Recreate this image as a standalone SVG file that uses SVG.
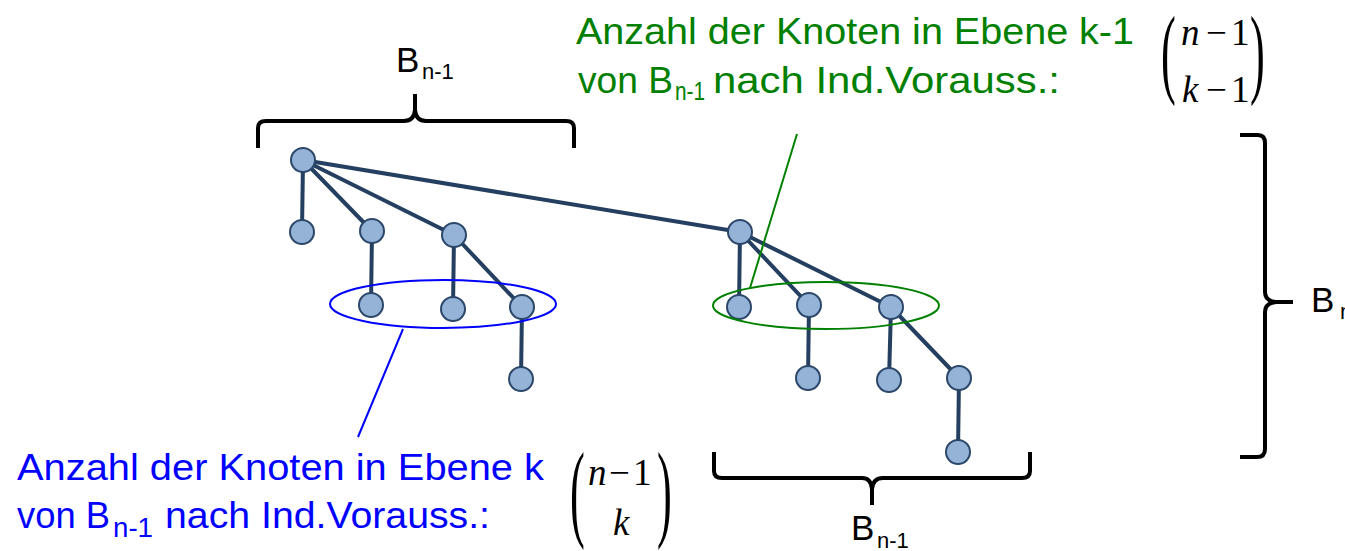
<svg xmlns="http://www.w3.org/2000/svg" width="1345" height="551" viewBox="0 0 1345 551">
<style>
.edge{stroke:#243F60;stroke-width:4;stroke-linecap:round}
.node{fill:#95B3D7;stroke:#2B4769;stroke-width:2}
.brace{fill:none;stroke:#000;stroke-width:4;stroke-linejoin:round}
.t{font-family:"Liberation Sans",Arial,sans-serif}
.m{font-family:"Liberation Serif","Times New Roman",serif;font-size:37px;fill:#000}
.mi{font-style:italic}
.green{fill:#008000}
.blue{fill:#0000FF}
</style>
<rect width="1345" height="551" fill="#fff"/>
<g id="connectors">
<line class="edge" x1="303" y1="160" x2="302" y2="232"/>
<line class="edge" x1="303" y1="160" x2="372" y2="231"/>
<line class="edge" x1="303" y1="160" x2="454" y2="235"/>
<line class="edge" x1="303" y1="160" x2="740" y2="232"/>
<line class="edge" x1="372" y1="231" x2="371" y2="305"/>
<line class="edge" x1="454" y1="235" x2="453" y2="309"/>
<line class="edge" x1="454" y1="235" x2="522" y2="307"/>
<line class="edge" x1="522" y1="307" x2="521" y2="379"/>
<line class="edge" x1="740" y1="232" x2="739" y2="307"/>
<line class="edge" x1="740" y1="232" x2="809" y2="305"/>
<line class="edge" x1="740" y1="232" x2="891" y2="307"/>
<line class="edge" x1="809" y1="305" x2="808" y2="378"/>
<line class="edge" x1="891" y1="307" x2="889" y2="380"/>
<line class="edge" x1="891" y1="307" x2="959" y2="378"/>
<line class="edge" x1="959" y1="378" x2="958" y2="452"/>
</g>
<g id="n1"><circle class="node" cx="303" cy="160" r="12"/></g>
<g id="n2"><circle class="node" cx="302" cy="232" r="12"/></g>
<g id="n3"><circle class="node" cx="372" cy="231" r="12"/></g>
<g id="n4"><circle class="node" cx="454" cy="235" r="12"/></g>
<g id="n5"><circle class="node" cx="371" cy="305" r="12"/></g>
<g id="n6"><circle class="node" cx="453" cy="309" r="12"/></g>
<g id="n7"><circle class="node" cx="522" cy="307" r="12"/></g>
<g id="n8"><circle class="node" cx="521" cy="379" r="12"/></g>
<g id="n9"><circle class="node" cx="740" cy="232" r="12"/></g>
<g id="n10"><circle class="node" cx="739" cy="307" r="12"/></g>
<g id="n11"><circle class="node" cx="809" cy="305" r="12"/></g>
<g id="n12"><circle class="node" cx="891" cy="307" r="12"/></g>
<g id="n13"><circle class="node" cx="808" cy="378" r="12"/></g>
<g id="n14"><circle class="node" cx="889" cy="380" r="12"/></g>
<g id="n15"><circle class="node" cx="959" cy="378" r="12"/></g>
<g id="n16"><circle class="node" cx="958" cy="452" r="12"/></g>
<g id="blue-annotation">
<ellipse cx="443" cy="304" rx="113" ry="24" fill="none" stroke="#0000FF" stroke-width="2"/>
<line x1="403" y1="329" x2="358" y2="437" stroke="#0000FF" stroke-width="2"/>
<text class="t blue" x="17" y="480" font-size="37" textLength="527" lengthAdjust="spacingAndGlyphs">Anzahl der Knoten in Ebene k</text>
<text class="t blue" x="17" y="528" font-size="37" textLength="93" lengthAdjust="spacingAndGlyphs">von B</text>
<text class="t blue" x="113" y="537" font-size="27" textLength="40" lengthAdjust="spacingAndGlyphs">n-1</text>
<text class="t blue" x="165" y="528" font-size="37" textLength="325" lengthAdjust="spacingAndGlyphs">nach Ind.Vorauss.:</text>
<text class="m" transform="translate(570,527) scale(1.2,2.9)">(</text>
<text class="m" transform="translate(657,527) scale(1.2,2.9)">)</text>
<text class="m mi" x="588" y="485">n</text>
<text class="m" x="609" y="485">−</text>
<text class="m" x="633" y="485">1</text>
<text class="m mi" x="613" y="535">k</text>
</g>
<g id="green-annotation">
<ellipse cx="826" cy="305.5" rx="113" ry="23.5" fill="none" stroke="#008000" stroke-width="2"/>
<line x1="750" y1="288" x2="797" y2="134" stroke="#008000" stroke-width="2"/>
<text class="t green" x="576" y="44" font-size="37" textLength="558" lengthAdjust="spacingAndGlyphs">Anzahl der Knoten in Ebene k-1</text>
<text class="t green" x="578" y="93" font-size="37" textLength="95" lengthAdjust="spacingAndGlyphs">von B</text>
<text class="t green" x="675" y="100" font-size="26" textLength="30" lengthAdjust="spacingAndGlyphs">n-1</text>
<text class="t green" x="713" y="93" font-size="37" textLength="347" lengthAdjust="spacingAndGlyphs">nach Ind.Vorauss.:</text>
<text class="m" transform="translate(1161,85) scale(1.2,2.7)">(</text>
<text class="m" transform="translate(1250,85) scale(1.2,2.7)">)</text>
<text class="m mi" x="1181" y="45">n</text>
<text class="m" x="1206" y="45">−</text>
<text class="m" x="1231" y="45">1</text>
<text class="m mi" x="1182" y="102">k</text>
<text class="m" x="1206" y="102">−</text>
<text class="m" x="1231" y="102">1</text>
</g>
<g id="brace-top">
<path class="brace" d="M258,148 V128 Q258,121 266,121 H404 Q414,121 415,110 V94 M415,110 Q416,121 426,121 H566 Q574,121 574,128 V148"/>
<text class="t" x="396" y="72" font-size="35">B</text>
<text class="t" x="422" y="79" font-size="22">n-1</text>
</g>
<g id="brace-bottom">
<path class="brace" d="M714,452 V471 Q714,478 722,478 H862 Q871,478 872,489 V505 M872,489 Q873,478 883,478 H1022 Q1030,478 1030,471 V452"/>
<text class="t" x="851" y="540" font-size="35">B</text>
<text class="t" x="877" y="548" font-size="22">n-1</text>
</g>
<g id="brace-right">
<path class="brace" d="M1240,135 H1258 Q1265,135 1265,143 V292 Q1265,301 1276,302 H1293 M1276,302 Q1265,303 1265,312 V449 Q1265,457 1257,457 H1240"/>
<text class="t" x="1311" y="312" font-size="35">B</text>
<text class="t" x="1340" y="319" font-size="22">n</text>
</g>
</svg>
